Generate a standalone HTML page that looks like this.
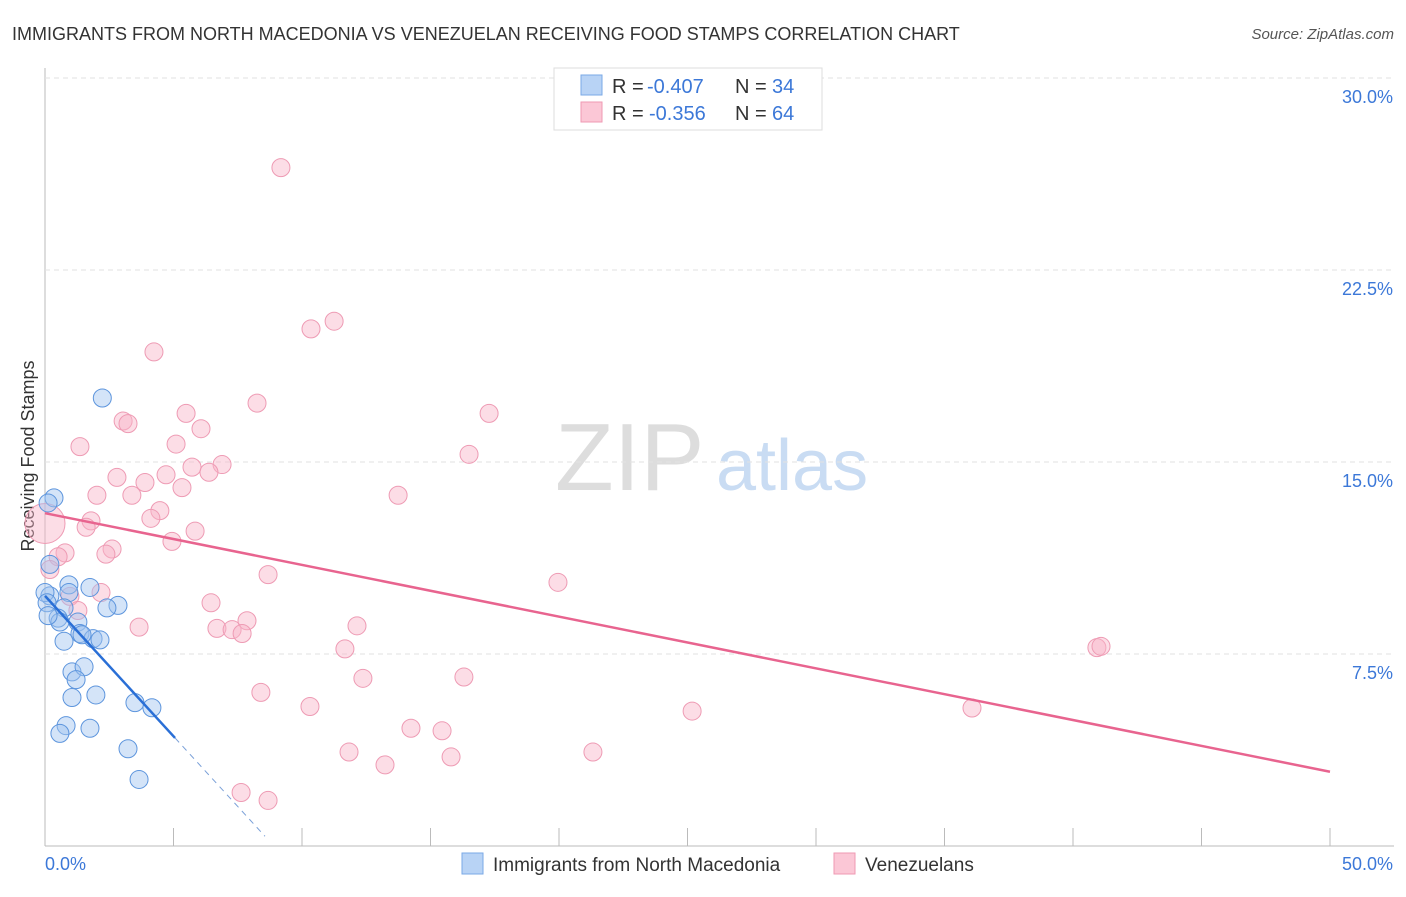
<!DOCTYPE html>
<html><head><meta charset="utf-8"><style>
body{margin:0;background:#fff;font-family:"Liberation Sans",sans-serif;}
svg text{font-family:"Liberation Sans",sans-serif;}
</style></head><body>
<svg id="c" width="1406" height="892">
<text x="12" y="40" font-size="18" fill="#333">IMMIGRANTS FROM NORTH MACEDONIA VS VENEZUELAN RECEIVING FOOD STAMPS CORRELATION CHART</text>
<text x="1394" y="39" font-size="15" fill="#555" font-style="italic" text-anchor="end">Source: ZipAtlas.com</text>
<text x="34" y="456" font-size="18" fill="#333" text-anchor="middle" transform="rotate(-90 34 456)">Receiving Food Stamps</text>
<text x="555" y="490" font-size="96" fill="#ddd" font-family="Liberation Serif">ZIP</text>
<text x="716" y="490" font-size="72" fill="#c9dcf3">atlas</text>
<g id="grid"></g><g id="pts"></g><g id="lines"></g>
<g>
<rect x="554" y="68" width="268" height="62" fill="#fff" stroke="#ddd"/>
<rect x="581" y="75" width="21" height="20" fill="#b8d3f5" stroke="#7aa8e6"/>
<rect x="581" y="102" width="21" height="20" fill="#fbc7d6" stroke="#ef9ab3"/>
<text x="612" y="93" font-size="20" fill="#333">R =</text>
<text x="647" y="93" font-size="20" fill="#3c78d8">-0.407</text>
<text x="735" y="93" font-size="20" fill="#333">N =</text>
<text x="772" y="93" font-size="20" fill="#3c78d8">34</text>
<text x="612" y="120" font-size="20" fill="#333">R =</text>
<text x="649" y="120" font-size="20" fill="#3c78d8">-0.356</text>
<text x="735" y="120" font-size="20" fill="#333">N =</text>
<text x="772" y="120" font-size="20" fill="#3c78d8">64</text>
</g>
<g>
<rect x="462" y="853" width="21" height="21" fill="#b8d3f5" stroke="#7aa8e6"/>
<text x="493" y="871" font-size="19" fill="#333">Immigrants from North Macedonia</text>
<rect x="834" y="853" width="21" height="21" fill="#fbc7d6" stroke="#ef9ab3"/>
<text x="865" y="871" font-size="19" fill="#333">Venezuelans</text>
</g>
</svg>
<script>
const yTicks=[7.5,15,22.5,30];
const yTickLabels=["7.5%","15.0%","22.5%","30.0%"];
const xTicks=[0,5,10,15,20,25,30,35,40,45,50];
const blueX=[2.23,0.35,0.12,0.19,0.19,0.93,1.75,0.93,2.84,2.41,0.74,0.51,0.58,1.28,1.36,1.87,1.44,0.74,2.14,1.05,1.52,1.21,1.98,1.05,3.50,4.16,0.82,1.75,0.58,3.23,3.66,0,0.08,0.12];
const blueY=[17.5,13.6,13.4,11.0,9.77,10.2,10.1,9.9,9.4,9.3,9.3,8.9,8.75,8.75,8.3,8.1,8.25,8.0,8.05,6.8,7.0,6.5,5.9,5.8,5.6,5.4,4.7,4.6,4.4,3.8,2.6,9.9,9.5,9.0];
const pinkX=[9.18,11.25,10.35,4.24,8.25,17.28,5.49,3.04,3.23,6.07,1.36,5.10,16.5,6.89,5.72,4.71,6.38,2.80,3.89,5.33,2.02,3.38,13.74,4.47,1.79,4.12,1.60,5.84,4.94,2.61,2.37,0.78,0.51,8.68,19.96,0.19,2.18,0.97,6.46,7.86,3.66,6.69,7.28,7.67,12.14,11.67,40.93,41.09,12.37,16.3,8.4,10.31,25.18,36.07,14.24,15.45,11.83,15.8,21.32,13.23,7.63,8.68,0,1.28];
const pinkY=[26.5,20.5,20.2,19.3,17.3,16.9,16.9,16.6,16.5,16.3,15.6,15.7,15.3,14.9,14.8,14.5,14.6,14.4,14.2,14.0,13.7,13.7,13.7,13.1,12.7,12.8,12.45,12.3,11.9,11.6,11.4,11.45,11.3,10.6,10.3,10.8,9.9,9.75,9.5,8.8,8.55,8.5,8.45,8.3,8.6,7.7,7.75,7.8,6.55,6.6,6.0,5.45,5.27,5.39,4.6,4.5,3.67,3.48,3.67,3.17,2.09,1.78,12.6,9.2];
const pinkFit=[13.0,2.9];
const blueFit=[9.77,4.22,0.38];
const X=v=>45+v*25.7, Y=v=>846-v*25.6;
const NS="http://www.w3.org/2000/svg";
function mk(t,a,p){const e=document.createElementNS(NS,t);for(const k in a)e.setAttribute(k,a[k]);p.appendChild(e);return e;}
const grid=document.getElementById('grid');
mk('line',{x1:45,y1:68,x2:45,y2:846,stroke:'#bbb'},grid);
mk('line',{x1:45,y1:846,x2:1394,y2:846,stroke:'#bbb'},grid);
yTicks.forEach((t,i)=>{
 const l=mk('line',{x1:45,y1:Y(t),x2:1394,y2:Y(t),stroke:'#e2e2e2','stroke-dasharray':'5,4'},grid);
 
 
 const tx=mk('text',{x:1393,y:Y(t)+25,'font-size':18,fill:'#3c78d8','text-anchor':'end'},grid);
 tx.textContent=yTickLabels[i];
 
 
});
xTicks.forEach(t=>{
 const l=mk('line',{x1:X(t),y1:828,x2:X(t),y2:846,stroke:'#bbb'},grid);
 
 
});
const a=mk('text',{x:45,y:870,'font-size':18,fill:'#3c78d8'},grid);a.textContent='0.0%';


const b=mk('text',{x:1393,y:870,'font-size':18,fill:'#3c78d8','text-anchor':'end'},grid);b.textContent='50.0%';


const pts=document.getElementById('pts');
pinkX.forEach((x,i)=>{
 const c=mk('circle',{cx:X(x),cy:Y(pinkY[i]),r:(i==62?20:9),fill:'rgba(248,180,200,0.45)',stroke:'#ee9bb4','stroke-width':1},pts);
 
 
});
blueX.forEach((x,i)=>{
 const c=mk('circle',{cx:X(x),cy:Y(blueY[i]),r:9,fill:'rgba(160,195,240,0.45)',stroke:'#5d95dd','stroke-width':1},pts);
 
 
});
const ln=document.getElementById('lines');
const pl=mk('line',{x1:X(0),y1:Y(pinkFit[0]),x2:X(50),y2:Y(pinkFit[1]),stroke:'#e8648f','stroke-width':2.5},ln);


const bl=mk('line',{x1:X(0),y1:Y(blueFit[0]),x2:X(5.06),y2:Y(blueFit[1]),stroke:'#2a6fd6','stroke-width':2.5},ln);


const bd=mk('line',{x1:X(5.06),y1:Y(blueFit[1]),x2:X(8.56),y2:Y(blueFit[2]),stroke:'#7aa0d8','stroke-width':1,'stroke-dasharray':'6,5'},ln);


</script>
</body></html>
